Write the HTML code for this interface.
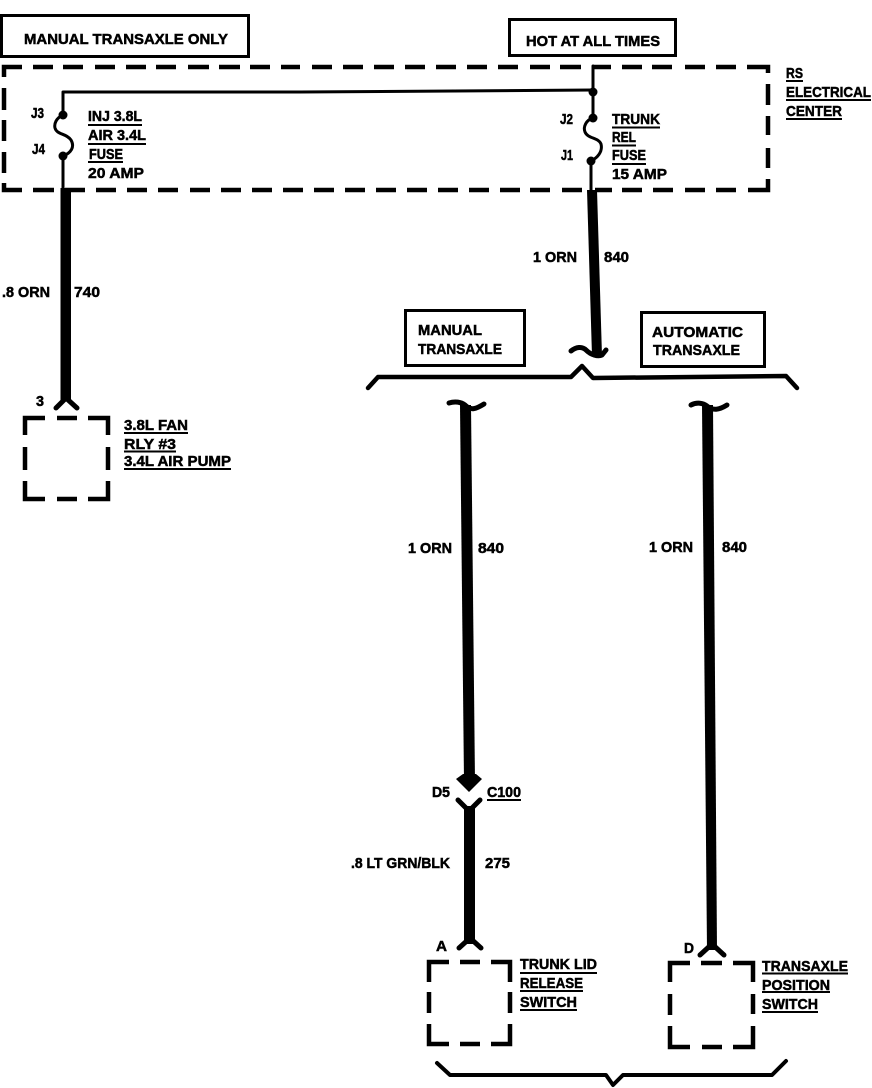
<!DOCTYPE html>
<html><head><meta charset="utf-8"><style>
html,body{margin:0;padding:0;background:#fff;width:872px;height:1088px;overflow:hidden}
svg{display:block}
text{font-family:"Liberation Sans",sans-serif;font-weight:bold;font-size:15px;fill:#000;stroke:#000;stroke-width:.5px}
.w{fill:none;stroke:#000;stroke-linecap:round;stroke-linejoin:round}
.d{fill:none;stroke:#000;stroke-width:4.500;stroke-linecap:butt;stroke-linejoin:miter}
</style></head><body>
<svg width="872" height="1088" viewBox="0 0 872 1088" xmlns="http://www.w3.org/2000/svg">
<!-- boxes -->
<rect x="1.5" y="15.5" width="247" height="41" fill="none" stroke="#000" stroke-width="3"/>
<rect x="509.5" y="19.5" width="166" height="36" fill="none" stroke="#000" stroke-width="3"/>
<rect x="405.5" y="310.5" width="119" height="55" fill="none" stroke="#000" stroke-width="3"/>
<rect x="641.5" y="312.5" width="123" height="54" fill="none" stroke="#000" stroke-width="3"/>
<!-- electrical center dashed -->
<path class="d" d="M4 77V67H22M33 67H53M63 67H83M95 67H115M126 67H146M156 67H176M188 67H209M219 67H240M250 67H270M281 67H300M312 67H332M343 67H363M374 67H394M405 67H425M436 67H456M467 67H487M498 67H518M530 67H550M560 67H581M593 67H611M622 67H642M652 67H672M685 67H705M716 67H736M747 67H768V73"/>
<path class="d" d="M4 88V110M4 120V141M4 152V173M4 183V190H22M33 190H54M65 190H85M96 190H116M127 190H147M158 190H178M190 190H210M221 190H241M252 190H272M283 190H303M314 190H334M345 190H365M376 190H396M407 190H427M438 190H458M469 190H489M500 190H520M530 190H550M562 190H582M595 190H612M622 190H642M653 190H673M685 190H705M716 190H736M748 190H768V179M768 168V148M768 135V116M768 105V84"/>
<!-- thin wires -->
<path class="w" stroke-width="3" d="M63 115V92H300L593 90"/>
<path class="w" stroke-width="3" d="M593 66V118"/>
<path class="w" stroke-width="3" d="M63 156V190"/>
<path class="w" stroke-width="3" d="M591 161V190"/>
<path class="w" stroke-width="3" d="M63 115C56 118 54 124 55 128C57 135 66 133 71 140C75 147 71 153 63 156"/>
<path class="w" stroke-width="3" d="M593 118C586 120 583 127 585 132C588 139 598 137 601 144C603 152 597 158 591 161"/>
<circle cx="63" cy="115" r="4.5"/><circle cx="63" cy="156" r="4.5"/>
<circle cx="593" cy="92" r="4.5"/><circle cx="593" cy="118" r="4.5"/><circle cx="591" cy="161" r="4.5"/>
<!-- thick wires -->
<path d="M60.500 188H71V400H60.500Z"/>
<path d="M587 190H597L602 356H592Z"/>
<path d="M460 405H471L475 782H464Z"/>
<path d="M702 405H713L717 950H707Z"/>
<path d="M464 806H475V944H464Z"/>
<!-- forks & hooks -->
<path class="w" stroke-width="5" d="M56 408L66 398L77 408"/>
<path class="w" stroke-width="5" d="M571 351C576 347 582 346 586 350C591 355 598 357 602 355L606 350"/>
<path class="w" stroke-width="5" d="M449 403C455 401 461 402 465 405C471 411 476 409 484 404"/>
<path class="w" stroke-width="5" d="M691 405C697 402 703 403 707 406C713 411 719 410 727 405"/>
<path d="M456 779L463 774H476L482 779L469 792Z"/>
<path class="w" stroke-width="5" d="M458 800L469 811L480 800"/>
<path class="w" stroke-width="5" d="M459 948L470 938L481 948"/>
<path class="w" stroke-width="5" d="M700 955L712 944L724 955"/>
<!-- braces -->
<path class="w" stroke-width="4.500" d="M368 388L378 377H571L582 366L593 378L786 376L797 388"/>
<path class="w" stroke-width="4" d="M437 1063L450 1075H606L613 1085L623 1075H772L786 1061"/>
<!-- dashed components -->
<path class="d" d="M25 435V418H45M57 418H77M88 418H108V435M108 447V470M108 481V499H88M77 499H57M45 499H25V481M25 470V447"/>
<path class="d" d="M429 982V962H449M460 962H480M491 962H510V982M510 992V1013M510 1024V1044H491M480 1044H460M449 1044H429V1024M429 1013V992"/>
<path class="d" d="M670 982V963H690M701 963H722M733 963H753V982M753 994V1014M753 1026V1047H733M722 1047H702M690 1047H670V1026M670 1015V994"/>
<!-- labels -->
<g>
<text x="24" y="44" textLength="204" lengthAdjust="spacingAndGlyphs">MANUAL TRANSAXLE ONLY</text>
<text x="526" y="46" textLength="134" lengthAdjust="spacingAndGlyphs">HOT AT ALL TIMES</text>
<text x="31" y="118" textLength="13" lengthAdjust="spacingAndGlyphs">J3</text>
<text x="32" y="154" textLength="13" lengthAdjust="spacingAndGlyphs">J4</text>
<text x="88" y="121" textLength="54" lengthAdjust="spacingAndGlyphs">INJ 3.8L</text>
<text x="88" y="140" textLength="58" lengthAdjust="spacingAndGlyphs">AIR 3.4L</text>
<text x="89" y="159" textLength="34" lengthAdjust="spacingAndGlyphs">FUSE</text>
<text x="88" y="178" textLength="56" lengthAdjust="spacingAndGlyphs">20 AMP</text>
<text x="560" y="124" textLength="13" lengthAdjust="spacingAndGlyphs">J2</text>
<text x="561" y="160" textLength="12" lengthAdjust="spacingAndGlyphs">J1</text>
<text x="612" y="124" textLength="48" lengthAdjust="spacingAndGlyphs">TRUNK</text>
<text x="612" y="142" textLength="24" lengthAdjust="spacingAndGlyphs">REL</text>
<text x="612" y="160" textLength="34" lengthAdjust="spacingAndGlyphs">FUSE</text>
<text x="612" y="179" textLength="55" lengthAdjust="spacingAndGlyphs">15 AMP</text>
<text x="786" y="78" textLength="17" lengthAdjust="spacingAndGlyphs">RS</text>
<text x="786" y="97" textLength="85" lengthAdjust="spacingAndGlyphs">ELECTRICAL</text>
<text x="786" y="116" textLength="56" lengthAdjust="spacingAndGlyphs">CENTER</text>
<text x="533" y="262" textLength="44" lengthAdjust="spacingAndGlyphs">1 ORN</text>
<text x="604" y="262" textLength="25" lengthAdjust="spacingAndGlyphs">840</text>
<text x="2" y="297" textLength="48" lengthAdjust="spacingAndGlyphs">.8 ORN</text>
<text x="74" y="297" textLength="26" lengthAdjust="spacingAndGlyphs">740</text>
<text x="418" y="335" textLength="64" lengthAdjust="spacingAndGlyphs">MANUAL</text>
<text x="418" y="354" textLength="84" lengthAdjust="spacingAndGlyphs">TRANSAXLE</text>
<text x="652" y="337" textLength="91" lengthAdjust="spacingAndGlyphs">AUTOMATIC</text>
<text x="653" y="355" textLength="87" lengthAdjust="spacingAndGlyphs">TRANSAXLE</text>
<text x="36" y="406" textLength="8" lengthAdjust="spacingAndGlyphs">3</text>
<text x="124" y="430" textLength="64" lengthAdjust="spacingAndGlyphs">3.8L FAN</text>
<text x="124" y="449" textLength="52" lengthAdjust="spacingAndGlyphs">RLY #3</text>
<text x="124" y="466" textLength="107" lengthAdjust="spacingAndGlyphs">3.4L AIR PUMP</text>
<text x="408" y="553" textLength="44" lengthAdjust="spacingAndGlyphs">1 ORN</text>
<text x="478" y="553" textLength="26" lengthAdjust="spacingAndGlyphs">840</text>
<text x="649" y="552" textLength="44" lengthAdjust="spacingAndGlyphs">1 ORN</text>
<text x="722" y="552" textLength="25" lengthAdjust="spacingAndGlyphs">840</text>
<text x="432" y="797" textLength="18" lengthAdjust="spacingAndGlyphs">D5</text>
<text x="487" y="797" textLength="34" lengthAdjust="spacingAndGlyphs">C100</text>
<text x="351" y="868" textLength="99" lengthAdjust="spacingAndGlyphs">.8 LT GRN/BLK</text>
<text x="485" y="868" textLength="25" lengthAdjust="spacingAndGlyphs">275</text>
<text x="436" y="951" textLength="11" lengthAdjust="spacingAndGlyphs">A</text>
<text x="684" y="953" textLength="10" lengthAdjust="spacingAndGlyphs">D</text>
<text x="520" y="969" textLength="77" lengthAdjust="spacingAndGlyphs">TRUNK LID</text>
<text x="520" y="988" textLength="63" lengthAdjust="spacingAndGlyphs">RELEASE</text>
<text x="520" y="1007" textLength="57" lengthAdjust="spacingAndGlyphs">SWITCH</text>
<text x="762" y="971" textLength="86" lengthAdjust="spacingAndGlyphs">TRANSAXLE</text>
<text x="762" y="990" textLength="68" lengthAdjust="spacingAndGlyphs">POSITION</text>
<text x="762" y="1009" textLength="56" lengthAdjust="spacingAndGlyphs">SWITCH</text>
</g>
<!-- underlines -->
<path fill="none" stroke="#000" stroke-width="2" d="M88 125H142M88 144H146M88 162H123M612 127.500H660M612 145.500H636M612 164H646M786 81H803M786 100H871M786 119H842M124 433H188M124 451.500H176M124 469H231M487 800H521M520 973H597M520 991H583M520 1010H577M762 973.500H848M762 992H830M762 1012H818"/>
</svg>
</body></html>
